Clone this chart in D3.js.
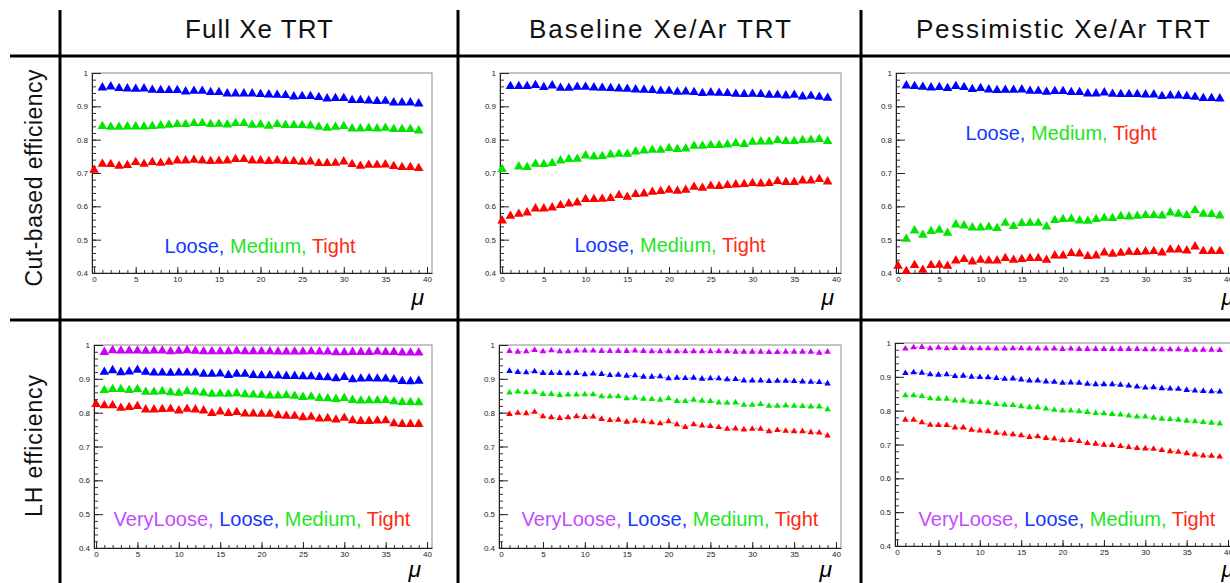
<!DOCTYPE html>
<html>
<head>
<meta charset="utf-8">
<script src="https://cdn.jsdelivr.net/npm/d3@7"></script>
<style>
  html, body { margin: 0; padding: 0; background: #fff; }
  svg { display: block; }
</style>
</head>
<body>
<svg id="chart" width="1230" height="583"></svg>
<script>
// ---- Tick labels and axis values ----
const muTicks = [0, 5, 10, 15, 20, 25, 30, 35, 40];
const effTicks = [0.4, 0.5, 0.6, 0.7, 0.8, 0.9, 1];
const columnTitles = ["Full Xe TRT", "Baseline Xe/Ar TRT", "Pessimistic Xe/Ar TRT"];
const rowTitles = ["Cut-based efficiency", "LH efficiency"];
const cutMenus = ["Loose", "Medium", "Tight"];
const lhMenus = ["VeryLoose", "Loose", "Medium", "Tight"];

// ---- Efficiency vs pile-up (index = mu, null = no entry) ----
// Full Xe, cut-based
const fullXeCutLoose = [null, .956,.959,.954,.953,.952,.953,.949,.948,.948,.948,.944,.946,.946,.942,.942,.938,.938,.938,.938,.936,.935,.934,.933,.929,.930,.930,.927,.923,.924,.924,.918,.918,.917,.915,.916,.911,.911,.911,.908];
const fullXeCutMedium = [null, .840,.838,.838,.839,.839,.839,.840,.842,.844,.846,.846,.849,.849,.846,.847,.845,.849,.849,.844,.845,.841,.846,.843,.843,.843,.842,.838,.835,.838,.840,.833,.833,.834,.833,.835,.831,.831,.831,.827];
const fullXeCutTight = [.709, .727,.726,.721,.723,.732,.727,.732,.730,.733,.737,.737,.739,.737,.735,.736,.737,.741,.741,.737,.737,.735,.737,.735,.735,.733,.734,.729,.729,.730,.734,.726,.721,.724,.724,.725,.720,.717,.717,.714];
// Baseline Xe/Ar, cut-based
const baseCutLoose = [null, .960,.960,.960,.963,.957,.962,.955,.955,.958,.958,.956,.955,.954,.953,.952,.950,.949,.948,.946,.946,.943,.944,.942,.939,.941,.940,.939,.937,.936,.937,.936,.934,.934,.932,.934,.929,.931,.928,.925];
const baseCutMedium = [.711, null, .719,.717,.727,.726,.729,.737,.741,.742,.752,.749,.750,.755,.757,.757,.764,.767,.769,.769,.774,.771,.773,.781,.781,.783,.783,.785,.789,.786,.793,.794,.794,.798,.795,.795,.798,.799,.801,.795];
const baseCutTight = [.557, .571,.577,.581,.593,.593,.596,.603,.608,.611,.621,.621,.622,.624,.633,.628,.636,.638,.643,.645,.649,.646,.649,.658,.655,.661,.660,.663,.665,.666,.669,.668,.669,.675,.672,.672,.677,.677,.681,.674];
// Pessimistic Xe/Ar, cut-based
const pessCutLoose = [null, .962,.960,.958,.956,.957,.954,.960,.957,.951,.954,.950,.948,.949,.949,.950,.946,.946,.943,.945,.945,.942,.942,.938,.938,.941,.937,.936,.936,.936,.935,.935,.930,.932,.932,.930,.928,.924,.924,.923];
const pessCutMedium = [null, .502,.527,.514,.525,.529,.520,.545,.542,.536,.536,.538,.534,.550,.540,.549,.550,.550,.539,.558,.561,.562,.557,.556,.561,.565,.564,.570,.569,.571,.573,.573,.572,.581,.577,.573,.588,.577,.576,.572];
const pessCutTight = [.421, .405,.423,.409,.423,.424,.421,.437,.441,.434,.439,.437,.437,.444,.439,.441,.444,.444,.439,.452,.452,.459,.458,.450,.452,.461,.457,.460,.463,.462,.464,.465,.461,.470,.470,.467,.479,.465,.465,.465];
// Full Xe, likelihood
const fullXeLhVeryLoose = [null, .979,.984,.983,.983,.983,.982,.983,.983,.981,.982,.984,.982,.981,.981,.981,.981,.982,.981,.981,.981,.981,.980,.980,.980,.980,.981,.980,.980,.978,.978,.979,.979,.979,.980,.979,.979,.977,.977,.977];
const fullXeLhLoose = [null, .920,.925,.919,.921,.926,.920,.918,.918,.917,.918,.918,.918,.914,.914,.915,.911,.914,.914,.911,.910,.910,.909,.908,.908,.907,.907,.905,.904,.901,.905,.898,.900,.901,.900,.900,.898,.893,.892,.894];
const fullXeLhMedium = [null, .866,.869,.869,.866,.869,.861,.861,.863,.860,.858,.863,.861,.858,.855,.856,.855,.857,.854,.853,.852,.850,.850,.851,.849,.846,.847,.843,.842,.840,.843,.837,.835,.836,.836,.837,.833,.831,.831,.830];
const fullXeLhTight = [.825, .821,.821,.814,.816,.819,.809,.809,.810,.811,.806,.811,.809,.806,.798,.803,.798,.801,.797,.797,.796,.796,.792,.790,.790,.786,.787,.782,.783,.779,.784,.777,.775,.775,.776,.777,.768,.766,.766,.766];
// Baseline Xe/Ar, likelihood
const baseLhVeryLoose = [null, .982,.980,.981,.985,.981,.984,.981,.981,.983,.983,.983,.982,.982,.982,.982,.983,.982,.981,.981,.981,.981,.981,.981,.981,.981,.981,.981,.980,.980,.980,.980,.979,.979,.980,.980,.980,.980,.977,.980];
const baseLhLoose = [null, .923,.920,.919,.922,.917,.917,.917,.916,.917,.913,.915,.914,.911,.912,.909,.910,.906,.906,.907,.901,.903,.902,.903,.900,.901,.901,.898,.899,.895,.895,.895,.893,.894,.894,.893,.892,.891,.890,.886];
const baseLhMedium = [null, .859,.862,.860,.861,.855,.855,.852,.853,.853,.854,.854,.848,.848,.848,.842,.844,.841,.840,.838,.842,.834,.834,.838,.835,.834,.830,.829,.830,.823,.823,.825,.820,.820,.821,.820,.819,.818,.818,.810];
const baseLhTight = [null, .796,.799,.798,.802,.789,.786,.784,.786,.789,.787,.788,.781,.778,.779,.773,.776,.774,.771,.768,.774,.765,.757,.765,.762,.760,.757,.752,.753,.750,.752,.752,.745,.748,.746,.745,.745,.742,.741,.732];
// Pessimistic Xe/Ar, likelihood
const pessLhVeryLoose = [null, .983,.987,.988,.984,.986,.984,.985,.985,.984,.984,.984,.983,.983,.984,.984,.983,.983,.983,.983,.982,.983,.982,.982,.982,.982,.982,.982,.982,.982,.981,.981,.981,.981,.981,.980,.980,.980,.980,.979];
const pessLhLoose = [null, .911,.913,.912,.907,.906,.907,.902,.903,.900,.899,.898,.896,.894,.895,.892,.889,.889,.886,.885,.882,.883,.882,.879,.878,.878,.878,.876,.874,.871,.868,.869,.866,.865,.864,.861,.859,.858,.857,.856];
const pessLhMedium = [null, .845,.845,.843,.836,.835,.835,.830,.830,.826,.825,.823,.819,.817,.816,.813,.810,.810,.806,.802,.800,.800,.798,.796,.793,.792,.790,.788,.785,.782,.782,.779,.776,.775,.773,.770,.768,.766,.764,.762];
const pessLhTight = [null, .773,.773,.765,.758,.757,.757,.750,.750,.743,.741,.739,.734,.732,.730,.727,.722,.724,.719,.717,.712,.713,.710,.704,.702,.699,.698,.695,.692,.689,.688,.687,.683,.680,.678,.674,.670,.667,.666,.664];

// ---- Styling ----
const markerColor = { VeryLoose: "#c800f5", Loose: "#0000ff", Medium: "#00e600", Tight: "#ff0000" };
const textColor = { VeryLoose: "#c44cff", Loose: "#1438ff", Medium: "#1ee61e", Tight: "#ff2a14" };

const svg = d3.select("#chart");

// Table rules
const rules = svg.append("g").attr("stroke", "#000").attr("stroke-width", 3);
[[60, 10, 60, 583], [458, 10, 458, 583], [861, 10, 861, 583],
 [10, 56, 1230, 56], [10, 320, 1230, 320]].forEach(([x1, y1, x2, y2]) =>
  rules.append("line").attr("x1", x1).attr("y1", y1).attr("x2", x2).attr("y2", y2));

// Column headings
const headFont = "'Liberation Sans', Arial, Helvetica, sans-serif";
const headers = [
  { text: columnTitles[0], cx: 259, len: 148 },
  { text: columnTitles[1], cx: 660, len: 262 },
  { text: columnTitles[2], cx: 1063, len: 294 }
];
headers.forEach(h => {
  svg.append("text")
    .attr("x", h.cx - h.len / 2).attr("y", 38)
    .attr("font-family", headFont).attr("font-size", 26)
    .attr("fill", "#111")
    .attr("textLength", h.len).attr("lengthAdjust", "spacing")
    .text(h.text);
});

// Row headings (rotated)
[{ text: rowTitles[0], cy: 178, len: 217 }, { text: rowTitles[1], cy: 446, len: 142 }].forEach(r => {
  svg.append("text")
    .attr("transform", `translate(42,${r.cy}) rotate(-90)`)
    .attr("x", -r.len / 2).attr("y", 0)
    .attr("font-family", headFont).attr("font-size", 23)
    .attr("fill", "#111")
    .attr("textLength", r.len).attr("lengthAdjust", "spacing")
    .text(r.text);
});

// ---- Panels ----
const panels = [
  { x0: 92, x1: 432, y0: 73, y1: 273, big: true, dashed: false,
    series: [["Loose", fullXeCutLoose], ["Medium", fullXeCutMedium], ["Tight", fullXeCutTight]],
    legend: cutMenus, lx: 260, ly: 253, muX: 424, muY: 305 },
  { x0: 500, x1: 841, y0: 73, y1: 273, big: true, dashed: false,
    series: [["Loose", baseCutLoose], ["Medium", baseCutMedium], ["Tight", baseCutTight]],
    legend: cutMenus, lx: 670, ly: 252, muX: 834, muY: 305 },
  { x0: 896, x1: 1233, y0: 73, y1: 273, big: true, dashed: false,
    series: [["Loose", pessCutLoose], ["Medium", pessCutMedium], ["Tight", pessCutTight]],
    legend: cutMenus, lx: 1061, ly: 140, muX: 1234, muY: 305 },
  { x0: 94, x1: 432, y0: 345, y1: 548, big: true, dashed: false,
    series: [["VeryLoose", fullXeLhVeryLoose], ["Loose", fullXeLhLoose], ["Medium", fullXeLhMedium], ["Tight", fullXeLhTight]],
    legend: lhMenus, lx: 262, ly: 526, muX: 421, muY: 577 },
  { x0: 499, x1: 841, y0: 345, y1: 548, big: false, dashed: true,
    series: [["VeryLoose", baseLhVeryLoose], ["Loose", baseLhLoose], ["Medium", baseLhMedium], ["Tight", baseLhTight]],
    legend: lhMenus, lx: 670, ly: 526, muX: 832, muY: 577 },
  { x0: 895, x1: 1233, y0: 343, y1: 546, big: false, dashed: true,
    series: [["VeryLoose", pessLhVeryLoose], ["Loose", pessLhLoose], ["Medium", pessLhMedium], ["Tight", pessLhTight]],
    legend: lhMenus, lx: 1067, ly: 526, muX: 1234, muY: 577 }
];

const tickFont = "'Liberation Sans', Arial, Helvetica, sans-serif";
const fmtEff = d => (d === 1 ? "1" : d.toFixed(1));
const yMinor = d3.range(0.4, 1.0001, 0.02).map(v => +v.toFixed(2));
const xMinor = d3.range(0, 41, 1);

function drawPanel(p) {
  const x = d3.scaleLinear().domain([-0.25, 40.6]).range([p.x0, p.x1]);
  const y = d3.scaleLinear().domain([0.4, 1]).range([p.y1, p.y0]);
  const g = svg.append("g");

  // frame
  g.append("rect")
    .attr("x", p.x0).attr("y", p.y0)
    .attr("width", p.x1 - p.x0).attr("height", p.y1 - p.y0)
    .attr("fill", "#fff").attr("stroke", "#8c8c8c").attr("stroke-width", 1);

  // minor ticks first so the labelled axis sits on top
  g.append("g").attr("transform", `translate(${p.x0},0)`)
    .call(d3.axisLeft(y).tickValues(yMinor).tickSize(-4).tickSizeOuter(0).tickFormat(""))
    .call(a => a.selectAll("line").attr("stroke", "#333"))
    .call(a => a.select(".domain").remove());
  g.append("g").attr("transform", `translate(0,${p.y1})`)
    .call(d3.axisBottom(x).tickValues(xMinor).tickSize(-3).tickSizeOuter(0).tickFormat(""))
    .call(a => a.selectAll("line").attr("stroke", "#333"))
    .call(a => a.select(".domain").remove());

  const yAx = g.append("g").attr("transform", `translate(${p.x0},0)`)
    .call(d3.axisLeft(y).tickValues(effTicks).tickSize(-9).tickSizeOuter(0).tickPadding(4).tickFormat(fmtEff));
  const xAx = g.append("g").attr("transform", `translate(0,${p.y1})`)
    .call(d3.axisBottom(x).tickValues(muTicks).tickSize(-6).tickSizeOuter(0).tickPadding(3));
  [yAx, xAx].forEach(a => {
    a.select(".domain").attr("stroke", "#222").attr("stroke-width", 1);
    a.selectAll("line").attr("stroke", "#222");
    a.selectAll("text").attr("font-family", tickFont).attr("font-size", 8).attr("fill", "#222");
  });

  // series
  const size = p.big ? 40 : 18;
  const tri = d3.symbol(d3.symbolTriangle, size);
  p.series.forEach(([name, vals]) => {
    const pts = vals.map((v, i) => ({ mu: i, v })).filter(d => d.v != null);
    if (p.dashed) {
      const line = d3.line().x(d => x(d.mu)).y(d => y(d.v));
      g.append("path").attr("d", line(pts))
        .attr("fill", "none").attr("stroke", markerColor[name])
        .attr("stroke-opacity", 0.45).attr("stroke-width", 1.2)
        .attr("stroke-dasharray", "3,2");
    }
    g.append("g").selectAll("path").data(pts).join("path")
      .attr("d", tri)
      .attr("transform", d => `translate(${x(d.mu)},${y(d.v)})`)
      .attr("fill", markerColor[name]);
  });

  // menu legend
  const t = g.append("text")
    .attr("x", p.lx).attr("y", p.ly)
    .attr("text-anchor", "middle")
    .attr("font-family", headFont).attr("font-size", 20);
  p.legend.forEach((name, i) => {
    t.append("tspan").attr("fill", textColor[name])
      .text(name + (i < p.legend.length - 1 ? ", " : ""));
  });

  // axis title
  g.append("text")
    .attr("x", p.muX).attr("y", p.muY)
    .attr("text-anchor", "end")
    .attr("font-family", headFont).attr("font-style", "italic").attr("font-size", 23)
    .attr("fill", "#000")
    .text("\u03bc");
}

panels.forEach(drawPanel);
</script>
</body>
</html>
